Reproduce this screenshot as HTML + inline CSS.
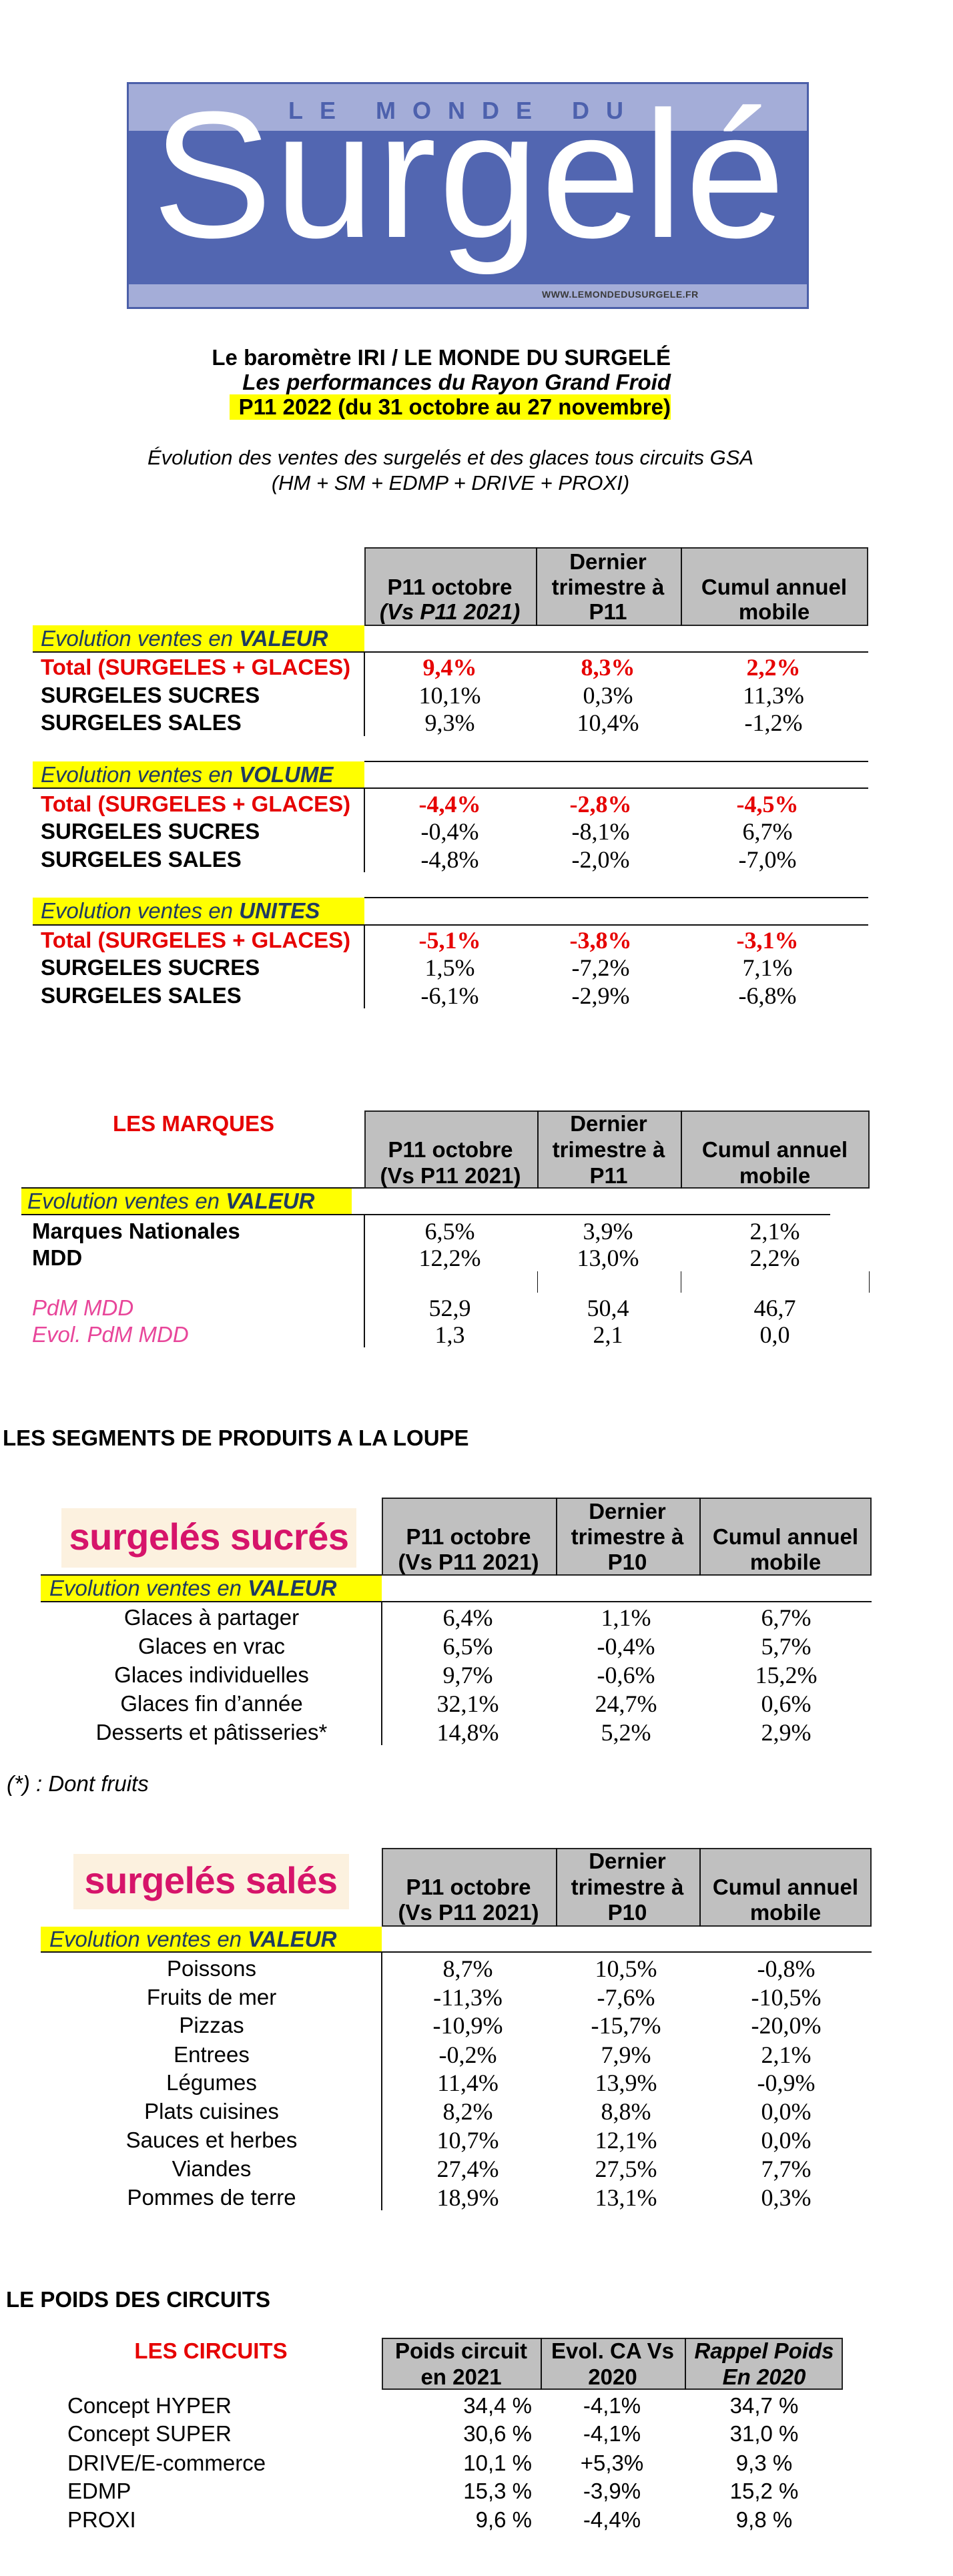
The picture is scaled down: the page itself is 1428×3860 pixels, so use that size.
<!DOCTYPE html>
<html><head><meta charset="utf-8">
<style>
html,body{margin:0;padding:0;background:#fff}
body{position:relative;width:1428px;height:3860px;overflow:hidden}
.p{position:absolute;line-height:40px;height:40px;white-space:nowrap}
.a{font-family:"Liberation Sans",Arial,sans-serif;font-size:33px;color:#000}
.s{font-family:"Liberation Serif","Times New Roman",serif;font-size:36px;color:#000}
.c{transform:translateX(-50%)}
.r{transform:translateX(-100%)}
.b{font-weight:bold}
.i{font-style:italic}
.red{color:#e60000}
.pk{color:#e8469a}
.box{position:absolute}
.hd{position:absolute;background:#c0c0c0;border:2px solid #222;box-sizing:border-box}
.vl{position:absolute;width:2px;background:#111}
.hl{position:absolute;height:2px;background:#111}
.yl{position:absolute;background:#ffff00}
.ev{color:#1f3a60}
</style></head><body>

<!-- LOGO -->
<div class="box" style="left:190px;top:123px;width:1022px;height:340px;background:#a4add8;border:3px solid #4b5fa9;box-sizing:border-box;overflow:hidden">
  <div class="box" style="left:0;top:70px;width:1022px;height:230px;background:#5266b1"></div>
</div>
<div class="p" style="left:432px;top:148px;height:36px;line-height:36px;font-family:'Liberation Sans',sans-serif;font-weight:bold;font-size:36px;letter-spacing:25px;color:#4d61ad">LE MONDE DU</div>
<div class="p" style="left:228px;top:128px;height:270px;line-height:270px;font-family:'Liberation Sans',sans-serif;font-size:270px;color:#fff;letter-spacing:3px">Surgelé</div>
<div class="p" style="left:812px;top:432px;height:18px;line-height:18px;font-family:'Liberation Sans',sans-serif;font-weight:bold;font-size:14px;color:#3a3a3a;letter-spacing:0.5px">WWW.LEMONDEDUSURGELE.FR</div>

<!-- Titles -->
<div class="p a b r" style="left:1005px;top:516px">Le baromètre IRI / LE MONDE DU SURGELÉ</div>
<div class="p a b i r" style="left:1005px;top:553px">Les performances du Rayon Grand Froid</div>
<div class="yl" style="left:344px;top:591px;width:661px;height:38px"></div>
<div class="p a b r" style="left:1005px;top:591px;height:38px;line-height:38px">P11 2022 (du 31 octobre au 27 novembre)</div>
<div class="p a i c" style="left:675px;top:666px;font-size:31px">Évolution des ventes des surgelés et des glaces tous circuits GSA</div>
<div class="p a i c" style="left:675px;top:704px;font-size:31px">(HM + SM + EDMP + DRIVE + PROXI)</div>

<!-- TABLE 1 -->
<div class="hd" style="left:546px;top:820px;width:755px;height:118px"></div>
<div class="vl" style="left:803px;top:820px;height:118px"></div>
<div class="vl" style="left:1020px;top:820px;height:118px"></div>
<div class="p a b c" style="left:674px;top:860px">P11 octobre</div>
<div class="p a b i c" style="left:674px;top:897px">(Vs P11 2021)</div>
<div class="p a b c" style="left:911px;top:822px">Dernier</div>
<div class="p a b c" style="left:911px;top:860px">trimestre à</div>
<div class="p a b c" style="left:911px;top:897px">P11</div>
<div class="p a b c" style="left:1160px;top:860px">Cumul annuel</div>
<div class="p a b c" style="left:1160px;top:897px">mobile</div>

<div class="yl" style="left:49px;top:937px;width:497px;height:40px"></div>
<div class="p a i ev" style="left:61px;top:937px">Evolution ventes en <b>VALEUR</b></div>
<div class="hl" style="left:49px;top:976px;width:1252px"></div>
<div class="vl" style="left:545px;top:977px;height:126px"></div>
<div class="p a b red" style="left:61px;top:980px">Total (SURGELES + GLACES)</div>
<div class="p a b" style="left:61px;top:1022px">SURGELES SUCRES</div>
<div class="p a b" style="left:61px;top:1063px">SURGELES SALES</div>
<div class="p s b red c" style="left:674px;top:980px">9,4%</div>
<div class="p s b red c" style="left:911px;top:980px">8,3%</div>
<div class="p s b red c" style="left:1159px;top:980px">2,2%</div>
<div class="p s c" style="left:674px;top:1022px">10,1%</div>
<div class="p s c" style="left:911px;top:1022px">0,3%</div>
<div class="p s c" style="left:1159px;top:1022px">11,3%</div>
<div class="p s c" style="left:674px;top:1063px">9,3%</div>
<div class="p s c" style="left:911px;top:1063px">10,4%</div>
<div class="p s c" style="left:1159px;top:1063px">-1,2%</div>

<div class="hl" style="left:546px;top:1140px;width:755px"></div>
<div class="yl" style="left:49px;top:1141px;width:497px;height:40px"></div>
<div class="p a i ev" style="left:61px;top:1141px">Evolution ventes en <b>VOLUME</b></div>
<div class="hl" style="left:49px;top:1180px;width:1252px"></div>
<div class="vl" style="left:545px;top:1181px;height:126px"></div>
<div class="p a b red" style="left:61px;top:1185px">Total (SURGELES + GLACES)</div>
<div class="p a b" style="left:61px;top:1226px">SURGELES SUCRES</div>
<div class="p a b" style="left:61px;top:1268px">SURGELES SALES</div>
<div class="p s b red c" style="left:674px;top:1185px">-4,4%</div>
<div class="p s b red c" style="left:900px;top:1185px">-2,8%</div>
<div class="p s b red c" style="left:1150px;top:1185px">-4,5%</div>
<div class="p s c" style="left:674px;top:1226px">-0,4%</div>
<div class="p s c" style="left:900px;top:1226px">-8,1%</div>
<div class="p s c" style="left:1150px;top:1226px">6,7%</div>
<div class="p s c" style="left:674px;top:1268px">-4,8%</div>
<div class="p s c" style="left:900px;top:1268px">-2,0%</div>
<div class="p s c" style="left:1150px;top:1268px">-7,0%</div>

<div class="hl" style="left:546px;top:1344px;width:755px"></div>
<div class="yl" style="left:49px;top:1345px;width:497px;height:40px"></div>
<div class="p a i ev" style="left:61px;top:1345px">Evolution ventes en <b>UNITES</b></div>
<div class="hl" style="left:49px;top:1385px;width:1252px"></div>
<div class="vl" style="left:545px;top:1386px;height:125px"></div>
<div class="p a b red" style="left:61px;top:1389px">Total (SURGELES + GLACES)</div>
<div class="p a b" style="left:61px;top:1430px">SURGELES SUCRES</div>
<div class="p a b" style="left:61px;top:1472px">SURGELES SALES</div>
<div class="p s b red c" style="left:674px;top:1389px">-5,1%</div>
<div class="p s b red c" style="left:900px;top:1389px">-3,8%</div>
<div class="p s b red c" style="left:1150px;top:1389px">-3,1%</div>
<div class="p s c" style="left:674px;top:1430px">1,5%</div>
<div class="p s c" style="left:900px;top:1430px">-7,2%</div>
<div class="p s c" style="left:1150px;top:1430px">7,1%</div>
<div class="p s c" style="left:674px;top:1472px">-6,1%</div>
<div class="p s c" style="left:900px;top:1472px">-2,9%</div>
<div class="p s c" style="left:1150px;top:1472px">-6,8%</div>

<!-- LES MARQUES -->
<div class="p a b red c" style="left:290px;top:1664px">LES MARQUES</div>
<div class="hd" style="left:546px;top:1664px;width:757px;height:117px"></div>
<div class="vl" style="left:805px;top:1664px;height:117px"></div>
<div class="vl" style="left:1020px;top:1664px;height:117px"></div>
<div class="p a b c" style="left:675px;top:1703px">P11 octobre</div>
<div class="p a b c" style="left:675px;top:1742px">(Vs P11 2021)</div>
<div class="p a b c" style="left:912px;top:1664px">Dernier</div>
<div class="p a b c" style="left:912px;top:1703px">trimestre à</div>
<div class="p a b c" style="left:912px;top:1742px">P11</div>
<div class="p a b c" style="left:1161px;top:1703px">Cumul annuel</div>
<div class="p a b c" style="left:1161px;top:1742px">mobile</div>
<div class="hl" style="left:32px;top:1779px;width:514px"></div>
<div class="yl" style="left:32px;top:1781px;width:495px;height:39px"></div>
<div class="p a i ev" style="left:41px;top:1780px">Evolution ventes en <b>VALEUR</b></div>
<div class="hl" style="left:32px;top:1819px;width:1212px"></div>
<div class="vl" style="left:545px;top:1820px;height:199px"></div>
<div class="p a b" style="left:48px;top:1825px">Marques Nationales</div>
<div class="p a b" style="left:48px;top:1865px">MDD</div>
<div class="p s c" style="left:674px;top:1825px">6,5%</div>
<div class="p s c" style="left:911px;top:1825px">3,9%</div>
<div class="p s c" style="left:1161px;top:1825px">2,1%</div>
<div class="p s c" style="left:674px;top:1865px">12,2%</div>
<div class="p s c" style="left:911px;top:1865px">13,0%</div>
<div class="p s c" style="left:1161px;top:1865px">2,2%</div>
<div class="vl" style="left:805px;top:1905px;height:32px;width:1px"></div>
<div class="vl" style="left:1020px;top:1905px;height:32px;width:1px"></div>
<div class="vl" style="left:1302px;top:1905px;height:32px;width:1px"></div>
<div class="p a i pk" style="left:48px;top:1940px">PdM MDD</div>
<div class="p a i pk" style="left:48px;top:1980px">Evol. PdM MDD</div>
<div class="p s c" style="left:674px;top:1940px">52,9</div>
<div class="p s c" style="left:911px;top:1940px">50,4</div>
<div class="p s c" style="left:1161px;top:1940px">46,7</div>
<div class="p s c" style="left:674px;top:1980px">1,3</div>
<div class="p s c" style="left:911px;top:1980px">2,1</div>
<div class="p s c" style="left:1161px;top:1980px">0,0</div>

<div class="p a b" style="left:4px;top:2135px">LES SEGMENTS DE PRODUITS A LA LOUPE</div>

<!-- SUCRES -->
<div class="box" style="left:92px;top:2260px;width:442px;height:89px;background:#fcf1df"></div>
<div class="p c" style="left:313px;top:2272px;height:62px;line-height:62px;font-family:'Liberation Sans',sans-serif;font-weight:bold;font-size:56px;color:#d6146a;letter-spacing:-0.5px">surgelés sucrés</div>
<div class="hd" style="left:572px;top:2244px;width:734px;height:117px"></div>
<div class="vl" style="left:833px;top:2244px;height:117px"></div>
<div class="vl" style="left:1048px;top:2244px;height:117px"></div>
<div class="p a b c" style="left:702px;top:2283px">P11 octobre</div>
<div class="p a b c" style="left:702px;top:2321px">(Vs P11 2021)</div>
<div class="p a b c" style="left:940px;top:2245px">Dernier</div>
<div class="p a b c" style="left:940px;top:2283px">trimestre à</div>
<div class="p a b c" style="left:940px;top:2321px">P10</div>
<div class="p a b c" style="left:1177px;top:2283px">Cumul annuel</div>
<div class="p a b c" style="left:1177px;top:2321px">mobile</div>
<div class="hl" style="left:61px;top:2359px;width:511px"></div>
<div class="yl" style="left:61px;top:2361px;width:511px;height:39px"></div>
<div class="p a i ev" style="left:74px;top:2360px">Evolution ventes en <b>VALEUR</b></div>
<div class="hl" style="left:61px;top:2399px;width:1245px"></div>
<div class="vl" style="left:571px;top:2400px;height:215px"></div>
<div class="p a c" style="left:317px;top:2404px">Glaces à partager</div>
<div class="p a c" style="left:317px;top:2447px">Glaces en vrac</div>
<div class="p a c" style="left:317px;top:2490px">Glaces individuelles</div>
<div class="p a c" style="left:317px;top:2533px">Glaces fin d’année</div>
<div class="p a c" style="left:317px;top:2576px">Desserts et pâtisseries*</div>
<div class="p s c" style="left:701px;top:2404px">6,4%</div>
<div class="p s c" style="left:938px;top:2404px">1,1%</div>
<div class="p s c" style="left:1178px;top:2404px">6,7%</div>
<div class="p s c" style="left:701px;top:2447px">6,5%</div>
<div class="p s c" style="left:938px;top:2447px">-0,4%</div>
<div class="p s c" style="left:1178px;top:2447px">5,7%</div>
<div class="p s c" style="left:701px;top:2490px">9,7%</div>
<div class="p s c" style="left:938px;top:2490px">-0,6%</div>
<div class="p s c" style="left:1178px;top:2490px">15,2%</div>
<div class="p s c" style="left:701px;top:2533px">32,1%</div>
<div class="p s c" style="left:938px;top:2533px">24,7%</div>
<div class="p s c" style="left:1178px;top:2533px">0,6%</div>
<div class="p s c" style="left:701px;top:2576px">14,8%</div>
<div class="p s c" style="left:938px;top:2576px">5,2%</div>
<div class="p s c" style="left:1178px;top:2576px">2,9%</div>
<div class="p a i" style="left:10px;top:2653px">(*) : Dont fruits</div>

<!-- SALES -->
<div class="box" style="left:110px;top:2778px;width:413px;height:83px;background:#fcf1df"></div>
<div class="p c" style="left:316px;top:2787px;height:62px;line-height:62px;font-family:'Liberation Sans',sans-serif;font-weight:bold;font-size:56px;color:#d6146a;letter-spacing:-0.5px">surgelés salés</div>
<div class="hd" style="left:572px;top:2769px;width:734px;height:118px"></div>
<div class="vl" style="left:833px;top:2769px;height:118px"></div>
<div class="vl" style="left:1048px;top:2769px;height:118px"></div>
<div class="p a b c" style="left:702px;top:2808px">P11 octobre</div>
<div class="p a b c" style="left:702px;top:2846px">(Vs P11 2021)</div>
<div class="p a b c" style="left:940px;top:2769px">Dernier</div>
<div class="p a b c" style="left:940px;top:2808px">trimestre à</div>
<div class="p a b c" style="left:940px;top:2846px">P10</div>
<div class="p a b c" style="left:1177px;top:2808px">Cumul annuel</div>
<div class="p a b c" style="left:1177px;top:2846px">mobile</div>
<div class="yl" style="left:61px;top:2887px;width:511px;height:38px"></div>
<div class="p a i ev" style="left:74px;top:2886px">Evolution ventes en <b>VALEUR</b></div>
<div class="hl" style="left:61px;top:2924px;width:1245px"></div>
<div class="vl" style="left:571px;top:2925px;height:387px"></div>
<div class="p a c" style="left:317px;top:2930px">Poissons</div>
<div class="p a c" style="left:317px;top:2973px">Fruits de mer</div>
<div class="p a c" style="left:317px;top:3015px">Pizzas</div>
<div class="p a c" style="left:317px;top:3059px">Entrees</div>
<div class="p a c" style="left:317px;top:3101px">Légumes</div>
<div class="p a c" style="left:317px;top:3144px">Plats cuisines</div>
<div class="p a c" style="left:317px;top:3187px">Sauces et herbes</div>
<div class="p a c" style="left:317px;top:3230px">Viandes</div>
<div class="p a c" style="left:317px;top:3273px">Pommes de terre</div>

<div class="p s c" style="left:701px;top:2930px">8,7%</div>
<div class="p s c" style="left:938px;top:2930px">10,5%</div>
<div class="p s c" style="left:1178px;top:2930px">-0,8%</div>
<div class="p s c" style="left:701px;top:2973px">-11,3%</div>
<div class="p s c" style="left:938px;top:2973px">-7,6%</div>
<div class="p s c" style="left:1178px;top:2973px">-10,5%</div>
<div class="p s c" style="left:701px;top:3015px">-10,9%</div>
<div class="p s c" style="left:938px;top:3015px">-15,7%</div>
<div class="p s c" style="left:1178px;top:3015px">-20,0%</div>
<div class="p s c" style="left:701px;top:3059px">-0,2%</div>
<div class="p s c" style="left:938px;top:3059px">7,9%</div>
<div class="p s c" style="left:1178px;top:3059px">2,1%</div>
<div class="p s c" style="left:701px;top:3101px">11,4%</div>
<div class="p s c" style="left:938px;top:3101px">13,9%</div>
<div class="p s c" style="left:1178px;top:3101px">-0,9%</div>
<div class="p s c" style="left:701px;top:3144px">8,2%</div>
<div class="p s c" style="left:938px;top:3144px">8,8%</div>
<div class="p s c" style="left:1178px;top:3144px">0,0%</div>
<div class="p s c" style="left:701px;top:3187px">10,7%</div>
<div class="p s c" style="left:938px;top:3187px">12,1%</div>
<div class="p s c" style="left:1178px;top:3187px">0,0%</div>
<div class="p s c" style="left:701px;top:3230px">27,4%</div>
<div class="p s c" style="left:938px;top:3230px">27,5%</div>
<div class="p s c" style="left:1178px;top:3230px">7,7%</div>
<div class="p s c" style="left:701px;top:3273px">18,9%</div>
<div class="p s c" style="left:938px;top:3273px">13,1%</div>
<div class="p s c" style="left:1178px;top:3273px">0,3%</div>

<!-- CIRCUITS -->
<div class="p a b" style="left:9px;top:3426px">LE POIDS DES CIRCUITS</div>
<div class="p a b red c" style="left:316px;top:3503px">LES CIRCUITS</div>
<div class="hd" style="left:572px;top:3503px;width:691px;height:78px"></div>
<div class="vl" style="left:810px;top:3503px;height:78px"></div>
<div class="vl" style="left:1026px;top:3503px;height:78px"></div>
<div class="p a b c" style="left:691px;top:3503px">Poids circuit</div>
<div class="p a b c" style="left:691px;top:3542px">en 2021</div>
<div class="p a b c" style="left:918px;top:3503px">Evol. CA Vs</div>
<div class="p a b c" style="left:918px;top:3542px">2020</div>
<div class="p a b i c" style="left:1145px;top:3503px">Rappel Poids</div>
<div class="p a b i c" style="left:1145px;top:3542px">En 2020</div>

<div class="p a" style="left:101px;top:3585px">Concept HYPER</div>
<div class="p a" style="left:101px;top:3627px">Concept SUPER</div>
<div class="p a" style="left:101px;top:3671px">DRIVE/E-commerce</div>
<div class="p a" style="left:101px;top:3713px">EDMP</div>
<div class="p a" style="left:101px;top:3756px">PROXI</div>
<div class="p a r" style="left:797px;top:3585px">34,4 %</div>
<div class="p a r" style="left:797px;top:3627px">30,6 %</div>
<div class="p a r" style="left:797px;top:3671px">10,1 %</div>
<div class="p a r" style="left:797px;top:3713px">15,3 %</div>
<div class="p a r" style="left:797px;top:3756px">9,6 %</div>
<div class="p a c" style="left:917px;top:3585px">-4,1%</div>
<div class="p a c" style="left:917px;top:3627px">-4,1%</div>
<div class="p a c" style="left:917px;top:3671px">+5,3%</div>
<div class="p a c" style="left:917px;top:3713px">-3,9%</div>
<div class="p a c" style="left:917px;top:3756px">-4,4%</div>
<div class="p a c" style="left:1145px;top:3585px">34,7 %</div>
<div class="p a c" style="left:1145px;top:3627px">31,0 %</div>
<div class="p a c" style="left:1145px;top:3671px">9,3 %</div>
<div class="p a c" style="left:1145px;top:3713px">15,2 %</div>
<div class="p a c" style="left:1145px;top:3756px">9,8 %</div>

</body></html>
